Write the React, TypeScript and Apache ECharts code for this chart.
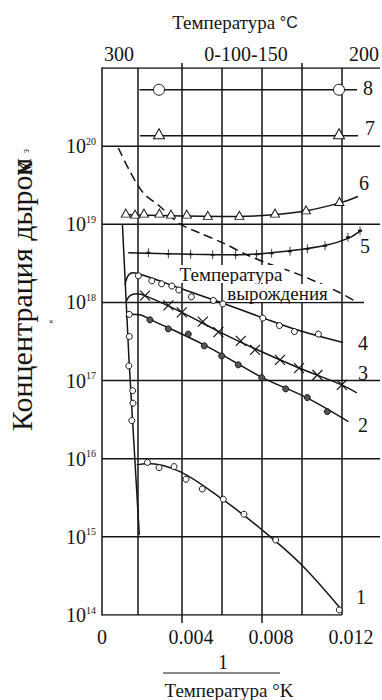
import React, { useEffect, useRef } from "react";
import * as echarts from "echarts";

// ---------- tick labels / axes ----------
const xTickValues = [0, 0.004, 0.008, 0.012];
const xBottomTickMarks = [0.004, 0.008];
const xTopTickMarks = [0.004, 0.01];
const yTickExponents = [14, 15, 16, 17, 18, 19, 20, 21];
const gridXValues = [0.0018, 0.004, 0.006, 0.008, 0.01, 0.012];
const topTempLabels = ["300", "0-100-150", "200"];
const curveNames = ["1", "2", "3", "4", "5", "6", "7", "8"];

// ---------- curve 1 ----------
const c1SteepX = [0.00102, 0.00135, 0.001865];
const c1SteepY = [1.01e19, 1.84e17, 1.06e15];
const c1SteepPtsX = [0.001365, 0.001365, 0.00134, 0.001535, 0.00155, 0.00149];
const c1SteepPtsY = [7.04e17, 3.66e17, 1.54e17, 7.43e16, 5.14e16, 3.08e16];
const c1LowX = [0.001735, 0.002235, 0.0039, 0.006065, 0.0079, 0.0099, 0.011985];
const c1LowY = [8.32e15, 8.71e15, 6.84e15, 2.97e15, 1.29e15, 4.59e14, 1.16e14];
const c1PtsX = [0.002275, 0.00285, 0.0036, 0.0042, 0.005015, 0.006065, 0.0071, 0.008685, 0.011865];
const c1PtsY = [8.97e15, 7.69e15, 7.92e15, 5.46e15, 4.1e15, 3.03e15, 1.95e15, 9.12e14, 1.16e14];

// ---------- curve 2 ----------
const c2LineX = [0.0012, 0.00145, 0.0019, 0.0024, 0.00515, 0.008, 0.01025, 0.01232];
const c2LineY = [6.54e17, 7.04e17, 6.94e17, 6.08e17, 2.82e17, 1.1e17, 6.0e16, 2.98e16];
const c2PtsX = [0.0024, 0.003315, 0.004315, 0.005115, 0.005985, 0.006815, 0.007985, 0.009185, 0.010265, 0.011265];
const c2PtsY = [5.98e17, 4.59e17, 3.93e17, 2.78e17, 2.07e17, 1.59e17, 1.09e17, 7.83e16, 6.06e16, 4.01e16];

// ---------- curve 3 ----------
const c3LineX = [0.0012, 0.0014, 0.00175, 0.00215, 0.00399, 0.00582, 0.00765, 0.00985, 0.01199, 0.01274];
const c3LineY = [1.02e18, 1.22e18, 1.29e18, 1.22e18, 7.47e17, 4.27e17, 2.55e17, 1.45e17, 8.81e16, 6.95e16];
const c3PtsX = [0.00215, 0.00332, 0.00399, 0.00504, 0.00582, 0.00694, 0.00765, 0.0089, 0.00985, 0.01077, 0.01199];
const c3PtsY = [1.22e18, 9.18e17, 7.47e17, 5.69e17, 4.17e17, 3.22e17, 2.47e17, 1.84e17, 1.44e17, 1.18e17, 8.81e16];

// ---------- curve 4 ----------
const c4LineX = [0.00115, 0.0013, 0.00155, 0.00215, 0.0039, 0.00605, 0.0079, 0.0099, 0.01205];
const c4LineY = [1.68e18, 2.19e18, 2.4e18, 2.19e18, 1.52e18, 9.75e17, 6.54e17, 4.33e17, 3.07e17];
const c4PtsX = [0.00182, 0.00249, 0.00298, 0.00349, 0.00384, 0.00447, 0.00557, 0.00604, 0.00804, 0.00887, 0.00962, 0.01082];
const c4PtsY = [2.19e18, 1.89e18, 1.73e18, 1.62e18, 1.44e18, 1.18e18, 1.06e18, 9.59e17, 6.3e17, 5.06e17, 4.24e17, 3.93e17];

// ---------- curve 5 ----------
const c5LineX = [0.001315, 0.0045, 0.0069, 0.0094, 0.0112, 0.0123, 0.012985];
const c5LineY = [4.32e18, 4.13e18, 4.07e18, 4.6e18, 5.4e18, 6.6e18, 8.5e18];
const c5PtsX = [0.002315, 0.003315, 0.004435, 0.005535, 0.006685, 0.007735, 0.008485, 0.0094, 0.010265, 0.01115, 0.0123, 0.0129];
const c5PtsY = [4.32e18, 4.19e18, 4.13e18, 4.07e18, 4.07e18, 4.13e18, 4.26e18, 4.51e18, 4.85e18, 5.31e18, 6.82e18, 8.26e18];

// ---------- curve 6 ----------
const c6LineX = [0.0012, 0.004, 0.0068, 0.0085, 0.0102, 0.0119, 0.0128];
const c6LineY = [1.32e19, 1.28e19, 1.26e19, 1.32e19, 1.49e19, 1.88e19, 2.27e19];
const c6PtsX = [0.00119, 0.00165, 0.0021, 0.00287, 0.00345, 0.00424, 0.00529, 0.00687, 0.00865, 0.0102, 0.01187];
const c6PtsY = [1.39e19, 1.35e19, 1.39e19, 1.39e19, 1.35e19, 1.35e19, 1.3e19, 1.3e19, 1.39e19, 1.53e19, 1.96e19];

// ---------- curve 7 ----------
const c7LineX = [0.0019, 0.0128];
const c7LineY = [1.36e20, 1.36e20];
const c7PtsX = [0.00285, 0.01185];
const c7PtsY = [1.44e20, 1.44e20];

// ---------- curve 8 ----------
const c8LineX = [0.001875, 0.01275];
const c8LineY = [5.27e20, 5.27e20];
const c8PtsX = [0.00285, 0.01185];
const c8PtsY = [5.27e20, 5.27e20];

// ---------- degeneracy temperature (dashed) ----------
const degX = [0.000815, 0.0014, 0.00207, 0.0029, 0.0039, 0.0049, 0.00607, 0.00724, 0.00824, 0.0099, 0.0119, 0.0127];
const degY = [9.47e19, 4.74e19, 2.51e19, 1.69e19, 1.01e19, 7.71e18, 5.74e18, 4.07e18, 3.19e18, 2.25e18, 1.33e18, 1.02e18];

const INK = "#151515";
const SERIF = "Liberation Serif, serif";
const SANS = "Liberation Sans, sans-serif";
const X_MAX = 0.0139;

const pairs = (xs: number[], ys: number[]) => xs.map((x, i) => [x, ys[i]]);

const seg = (pts: number[][], width = 1.5) => ({
  type: "line",
  data: pts,
  symbol: "none",
  silent: true,
  z: 1,
  lineStyle: { color: INK, width },
});

const curve = (xs: number[], ys: number[], smooth: number | boolean = 0.35, extra: any = {}) => ({
  type: "line",
  data: pairs(xs, ys),
  symbol: "none",
  smooth,
  silent: true,
  z: 3,
  lineStyle: { color: INK, width: 1.5, ...(extra.lineStyle || {}) },
});

const marks = (xs: number[], ys: number[], symbol: string, size: any, fill: string, bw = 1) => ({
  type: "scatter",
  data: pairs(xs, ys),
  symbol,
  symbolSize: size,
  silent: true,
  z: 5,
  itemStyle: { color: fill, borderColor: INK, borderWidth: bw, opacity: 1 },
});

const hEnd = (e: number) => (e === 14 ? 0.012 : e === 18 ? 0.0131 : X_MAX);

const labelPos: Record<string, [number, number]> = {
  "1": [361, 597],
  "2": [363, 425],
  "3": [363, 373],
  "4": [363, 343],
  "5": [365, 246],
  "6": [364, 183],
  "7": [370, 128],
  "8": [368, 88],
};
const topPos = [
  [119, 54],
  [246, 54],
  [364, 54],
];

const txt = (text: string, x: number, y: number, size: number, extra: any = {}) => ({
  type: "text",
  x,
  y,
  z: 100,
  style: { text, fontFamily: SERIF, fontSize: size, fill: INK, align: "center", verticalAlign: "middle", ...extra },
});

function buildOption(): any {
  const series: any[] = [];
  gridXValues.forEach((x) => series.push(seg([[x, 1e14], [x, 1e21]])));
  yTickExponents.forEach((e) => series.push(seg([[0, Math.pow(10, e)], [hEnd(e), Math.pow(10, e)]])));

  series.push(curve(degX, degY, 0.3, { lineStyle: { type: [9, 5] } }));
  series.push(curve(c1SteepX, c1SteepY, false));
  series.push(curve(c1LowX, c1LowY));
  series.push(curve(c2LineX, c2LineY));
  series.push(curve(c3LineX, c3LineY));
  series.push(curve(c4LineX, c4LineY));
  series.push(curve(c5LineX, c5LineY));
  series.push(curve(c6LineX, c6LineY));
  series.push(curve(c7LineX, c7LineY, false));
  series.push(curve(c8LineX, c8LineY, false));

  series.push(marks(c1SteepPtsX, c1SteepPtsY, "circle", 6, "#fff"));
  series.push(marks(c1PtsX, c1PtsY, "circle", 6, "#fff"));
  series.push(marks(c2PtsX, c2PtsY, "circle", 6, "#555"));
  series.push(marks(c3PtsX, c3PtsY, "path://M0,0L10,10M10,0L0,10", 10, "none", 1.2));
  series.push(marks(c4PtsX, c4PtsY, "circle", 6, "#fff"));
  series.push(marks(c5PtsX, c5PtsY, "path://M0,5L10,5M5,0L5,10", [4, 9], "none", 1.2));
  series.push(marks(c6PtsX, c6PtsY, "triangle", [9, 8], "#fff"));
  series.push(marks(c7PtsX, c7PtsY, "triangle", [11, 10], "#fff"));
  series.push(marks(c8PtsX, c8PtsY, "circle", 11, "#fff"));

  const graphic: any[] = [];
  curveNames.forEach((n) => graphic.push(txt(n, labelPos[n][0], labelPos[n][1], 20)));
  topTempLabels.forEach((t, i) => graphic.push(txt(t, topPos[i][0], topPos[i][1], 20)));
  graphic.push({
    type: "text",
    x: 235,
    y: 22,
    z: 100,
    style: {
      text: "{a|Температура }{b|°C}",
      align: "center",
      verticalAlign: "middle",
      rich: {
        a: { fontFamily: SERIF, fontSize: 19, fill: INK },
        b: { fontFamily: SANS, fontSize: 16, fill: INK },
      },
    },
  });
  graphic.push(txt("1", 223, 662, 20));
  graphic.push({
    type: "line",
    z: 100,
    shape: { x1: 163, y1: 673, x2: 280, y2: 673 },
    style: { stroke: INK, lineWidth: 1.2 },
  });
  graphic.push(txt("Температура °K", 229, 690, 19));
  graphic.push(
    txt("Температура", 231, 274, 19, { lineHeight: 18, backgroundColor: "#fff", padding: [0, 2, 0, 2] })
  );
  graphic.push(
    txt("вырождения", 277.5, 293, 19, { lineHeight: 18, backgroundColor: "#fff", padding: [0, 2, 0, 2] })
  );
  // rotated y-axis title
  graphic.push({
    type: "text",
    x: 21,
    y: 431,
    rotation: Math.PI / 2,
    z: 100,
    style: { text: "Концентрация дырок", fontFamily: SERIF, fontSize: 30, fill: INK, align: "left", verticalAlign: "middle" },
  });
  graphic.push({
    type: "text",
    x: 21,
    y: 167,
    rotation: Math.PI / 2,
    z: 101,
    style: { text: "м", fontFamily: SERIF, fontSize: 28, fill: INK, align: "center", verticalAlign: "middle" },
  });
  graphic.push({
    type: "text",
    x: 25,
    y: 151,
    rotation: Math.PI / 2,
    z: 101,
    style: { text: "з", fontFamily: SERIF, fontSize: 10, fill: INK, align: "center", verticalAlign: "middle" },
  });
  graphic.push(txt("×", 51, 321, 8, { fontFamily: SANS }));

  return {
    animation: false,
    backgroundColor: "#fff",
    grid: { left: 102, top: 68, right: 2, bottom: 85, containLabel: false, outerBoundsMode: "none" },
    xAxis: [
      {
        type: "value",
        min: 0,
        max: X_MAX,
        interval: 0.004,
        position: "bottom",
        axisLine: { show: false },
        splitLine: { show: false },
        axisTick: {
          show: true,
          customValues: xBottomTickMarks,
          length: 8,
          lineStyle: { color: INK, width: 1.5 },
        },
        axisLabel: {
          customValues: xTickValues,
          margin: 12,
          formatter: (v: number) => (v === 0 ? "{z|0}" : `{p|}{o|${v.toFixed(3)}}`),
          rich: {
            z: { fontFamily: SERIF, fontSize: 20, color: INK },
            p: { width: 18, fontSize: 20 },
            o: { fontFamily: SERIF, fontSize: 20, color: INK },
          },
        },
      },
      {
        type: "value",
        min: 0,
        max: X_MAX,
        interval: 0.004,
        position: "top",
        axisLine: { show: false },
        splitLine: { show: false },
        axisLabel: { show: false },
        axisTick: {
          show: true,
          customValues: xTopTickMarks,
          length: 5,
          lineStyle: { color: INK, width: 1.5 },
        },
      },
    ],
    yAxis: {
      type: "log",
      logBase: 10,
      min: 1e14,
      max: 1e21,
      splitNumber: 7,
      axisLine: { show: true, lineStyle: { color: INK, width: 1.5 } },
      axisTick: { show: false },
      splitLine: { show: false },
      axisLabel: {
        customValues: yTickExponents.map((e) => Math.pow(10, e)),
        margin: 6,
        formatter: (v: number) => `{b|10}{s|${Math.round(Math.log10(v))}}`,
        rich: {
          b: { fontFamily: SERIF, fontSize: 20, color: INK },
          s: { fontFamily: SERIF, fontSize: 10, color: INK, verticalAlign: "top" },
        },
      },
    },
    series,
    graphic,
  };
}

export default function App() {
  const ref = useRef<HTMLDivElement>(null);
  useEffect(() => {
    if (!ref.current) return;
    const chart = echarts.init(ref.current, null, { renderer: "svg" });
    chart.setOption(buildOption());
    return () => chart.dispose();
  }, []);
  return (
    <div
      ref={ref}
      style={{ position: "fixed", left: 0, top: 0, width: 382, height: 700, background: "#fff" }}
    />
  );
}
